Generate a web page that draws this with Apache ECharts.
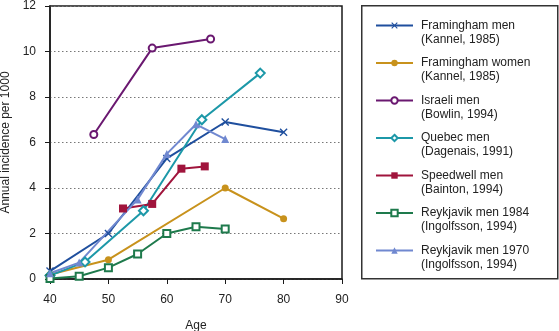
<!DOCTYPE html>
<html>
<head>
<meta charset="utf-8">
<script src="https://cdn.jsdelivr.net/npm/echarts@6/dist/echarts.min.js"></script>
<style>
  html, body { margin: 0; padding: 0; background: #fff; }
  #chart { width: 559px; height: 331px; }
</style>
</head>
<body>
<div id="chart"></div>
<script>
// Incidence of heart failure by age in several population studies
const seriesNames = [
  'Framingham men', 'Framingham women', 'Israeli men', 'Quebec men',
  'Speedwell men', 'Reykjavik men 1984', 'Reykjavik men 1970'
];
const seriesSources = [
  '(Kannel, 1985)', '(Kannel, 1985)', '(Bowlin, 1994)', '(Dagenais, 1991)',
  '(Bainton, 1994)', '(Ingolfsson, 1994)', '(Ingolfsson, 1994)'
];

const framinghamMenAge = [40, 50, 60, 70, 80];
const framinghamMenRate = [0.35, 2.0, 5.3, 6.9, 6.45];

const framinghamWomenAge = [40, 50, 70, 80];
const framinghamWomenRate = [0.2, 0.85, 4.0, 2.65];

const israeliMenAge = [47.5, 57.5, 67.5];
const israeliMenRate = [6.35, 10.15, 10.55];

const quebecMenAge = [40, 46, 56, 66, 76];
const quebecMenRate = [0.15, 0.75, 3.0, 7.0, 9.05];

const speedwellMenAge = [52.5, 57.5, 62.5, 66.5];
const speedwellMenRate = [3.1, 3.3, 4.85, 4.95];

const reykjavik1984Age = [40, 45, 50, 55, 60, 65, 70];
const reykjavik1984Rate = [0.02, 0.12, 0.5, 1.1, 2.0, 2.3, 2.2];

const reykjavik1970Age = [40, 45, 55, 60, 65, 70];
const reykjavik1970Rate = [0.25, 0.72, 3.5, 5.5, 6.8, 6.15];

const xTicks = [40, 50, 60, 70, 80, 90];
const yTicks = [0, 2, 4, 6, 8, 10, 12];

const pairs = (xs, ys) => xs.map((x, i) => [x, ys[i]]);

// Cross marker drawn as a filled outline
const crossSymbol = 'path://M0,1.2L1.2,0L5,3.8L8.8,0L10,1.2L6.2,5L10,8.8L8.8,10L5,6.2L1.2,10L0,8.8L3.8,5Z';

const styles = [
  { color: '#1f4f9e', symbol: crossSymbol, size: 8 },
  { color: '#c8921c', symbol: 'circle', size: 7 },
  { color: '#6a1870', symbol: 'emptyCircle', size: 7 },
  { color: '#1c98a8', symbol: 'emptyDiamond', size: 9 },
  { color: '#a0143c', symbol: 'rect', size: 8 },
  { color: '#1e7a4c', symbol: 'emptyRect', size: 7 },
  { color: '#7088d0', symbol: 'triangle', size: 8 }
];

const seriesData = [
  pairs(framinghamMenAge, framinghamMenRate),
  pairs(framinghamWomenAge, framinghamWomenRate),
  pairs(israeliMenAge, israeliMenRate),
  pairs(quebecMenAge, quebecMenRate),
  pairs(speedwellMenAge, speedwellMenRate),
  pairs(reykjavik1984Age, reykjavik1984Rate),
  pairs(reykjavik1970Age, reykjavik1970Rate)
];

const font = '"Liberation Sans", Arial, Helvetica, sans-serif';
const textColor = '#222';

const chart = echarts.init(document.getElementById('chart'), null, { renderer: 'canvas' });

chart.setOption({
  animation: false,
  backgroundColor: '#fff',
  textStyle: { fontFamily: font },
  grid: {
    left: 50, top: 6, width: 292, height: 273,
    outerBoundsMode: 'none', containLabel: false,
    show: true, borderColor: '#1a1a1a', borderWidth: 1.5, backgroundColor: 'transparent'
  },
  xAxis: {
    type: 'value', min: xTicks[0], max: xTicks[xTicks.length - 1], interval: 10,
    name: 'Age', nameLocation: 'middle', nameGap: 41,
    nameTextStyle: { fontSize: 12, color: textColor, fontFamily: font },
    axisLine: { show: true, lineStyle: { color: '#1a1a1a', width: 1.5 } },
    axisTick: { show: true, length: 5, lineStyle: { color: '#1a1a1a', width: 1 } },
    axisLabel: { fontSize: 12, color: textColor, margin: 15, fontFamily: font },
    splitLine: { show: false }
  },
  yAxis: {
    type: 'value', min: yTicks[0], max: yTicks[yTicks.length - 1], interval: 2,
    name: 'Annual incidence per 1000', nameLocation: 'middle', nameGap: 37, nameRotate: 90,
    nameTextStyle: { fontSize: 12, color: textColor, fontFamily: font },
    axisLine: { show: true, lineStyle: { color: '#1a1a1a', width: 1.5 } },
    axisTick: { show: true, length: 5, lineStyle: { color: '#1a1a1a', width: 1 } },
    axisLabel: { fontSize: 12, color: textColor, margin: 14, fontFamily: font },
    splitLine: { show: true, lineStyle: { color: '#777', type: [1.5, 2.5], width: 1 } }
  },
  legend: {
    orient: 'vertical', left: 375, top: 4.5, padding: 0,
    itemWidth: 37, itemHeight: 8, itemGap: -4.5,
    data: seriesNames,
    // leading blank line keeps the study name level with its key
    formatter: name => '\n' + name + '\n' + seriesSources[seriesNames.indexOf(name)],
    textStyle: { fontSize: 12, color: textColor, lineHeight: 14, padding: [0, 0, 0, 3], fontFamily: font }
  },
  graphic: [{
    type: 'rect', left: 361, top: 5, z: -1,
    shape: { width: 196, height: 273 },
    style: { fill: '#fff', stroke: '#333', lineWidth: 1.5 }
  }],
  series: seriesNames.map((name, i) => ({
    name: name,
    type: 'line',
    data: seriesData[i],
    symbol: styles[i].symbol,
    symbolSize: styles[i].size,
    showAllSymbol: true,
    lineStyle: { color: styles[i].color, width: 2 },
    itemStyle: { color: styles[i].color, borderWidth: 1.3 },
    emphasis: { disabled: true }
  }))
});
</script>
</body>
</html>
